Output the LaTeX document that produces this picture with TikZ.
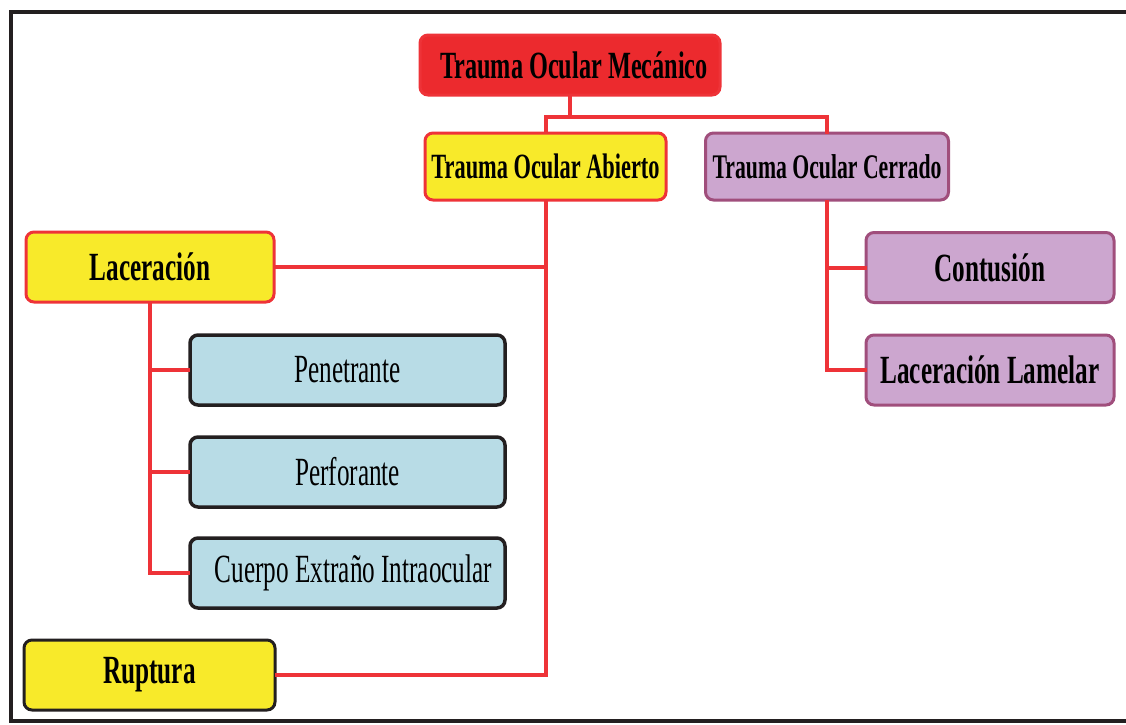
\documentclass[tikz,border=0pt]{standalone}
\usepackage{fontspec}
\setmainfont{Liberation Serif}[FakeStretch=0.63]

\definecolor{tomred}{HTML}{EC2A2E}
\definecolor{tomline}{HTML}{EE3338}
\definecolor{tomyellow}{HTML}{F8EA2A}
\definecolor{tomlilac}{HTML}{CCA6CF}
\definecolor{tomplum}{HTML}{A04E7C}
\definecolor{tomblue}{HTML}{B8DCE6}
\definecolor{tomdark}{HTML}{231F20}

\begin{document}
\begin{tikzpicture}[x=1pt,y=-1pt,cap=round,
    box/.style={rounded corners=8pt,line width=3pt,inner sep=0pt,
        minimum height=70pt,align=center,text=black,
        font=\fontsize{40}{46}\selectfont},
    redbox/.style={box,fill=tomred,draw=tomline},
    yellowbox/.style={box,fill=tomyellow,draw=tomline},
    lilacbox/.style={box,fill=tomlilac,draw=tomplum},
    bluebox/.style={box,fill=tomblue,draw=tomdark,line width=3.5pt},
    link/.style={draw=tomline,line width=4pt,line cap=rect}]
        \useasboundingbox (0,0) rectangle (1126,724);

        % draw the frame (its right side lies outside the picture)
        \draw[line width=4pt,tomdark,cap=butt] (1140,12) -- (11,12) -- (11,721) -- (1140,721);

        % draw the boxes
        \node[redbox,minimum width=300,minimum height=60,font=\fontsize{38.5}{44}\selectfont\bfseries]
            (mec) at (570,65) {\hspace{8pt}Trauma Ocular Mecánico};
        \node[yellowbox,minimum width=241,minimum height=67,font=\fontsize{35.5}{41}\selectfont\bfseries]
            (abierto) at (545.5,166.5) {Trauma Ocular Abierto};
        \node[lilacbox,minimum width=243,minimum height=67,font=\fontsize{34.5}{40}\selectfont\bfseries]
            (cerrado) at (827,166.5) {Trauma Ocular Cerrado};
        \node[yellowbox,minimum width=248,font=\fontsize{40}{46}\selectfont\bfseries]
            (lac) at (150,267) {Laceración};
        \node[yellowbox,draw=tomdark,minimum width=251,font=\fontsize{40}{46}\selectfont\bfseries]
            (rup) at (149.5,675) {Ruptura};
        \node[lilacbox,minimum width=248,font=\fontsize{40}{46}\selectfont\bfseries]
            (cont) at (990,267.5) {Contusión};
        \node[lilacbox,minimum width=248,font=\fontsize{40}{46}\selectfont\bfseries]
            (lam) at (990,370) {Laceración Lamelar};

        \foreach \name/\y/\txt in {
            pen/370/Penetrante,
            perf/472/Perforante,
            cuerpo/573/\hspace{12pt}Cuerpo Extraño Intraocular}
                \node[bluebox,minimum width=315] (\name) at (347.5,\y) {\txt};

        % draw the connectors
        \coordinate (top) at (570,117);
        \draw[link] (mec.south) -- (top);
        \draw[link] (abierto.north) |- (top) -| (cerrado.north);

        % the open trauma branch
        \draw[link] (abierto.south) |- (rup.east);
        \draw[link] (lac.east) -- (lac.east -| abierto.south);

        % the laceration branch
        \draw[link] (lac.south) |- (cuerpo.west);
        \foreach \name in {pen,perf}
                \draw[link] (lac.south |- \name.west) -- (\name.west);

        % the closed trauma branch
        \draw[link] (cerrado.south) |- (lam.west);
        \draw[link] (cerrado.south |- cont.west) -- (cont.west);
    \end{tikzpicture}
\end{document}
